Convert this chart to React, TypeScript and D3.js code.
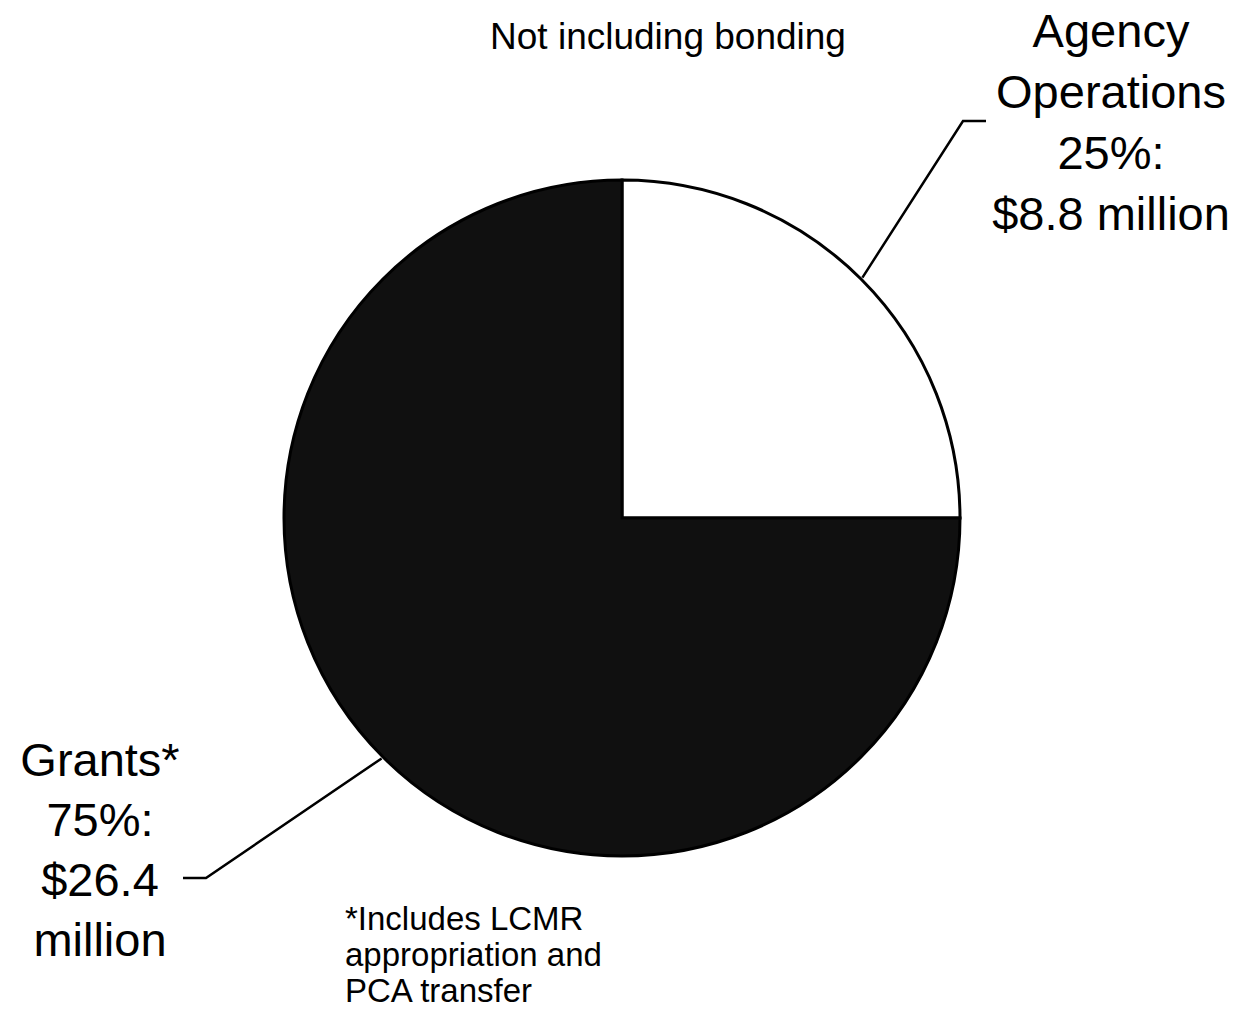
import React from 'react';
import * as d3 from 'd3';

const categories = ['Agency Operations', 'Grants*'];
const values = [8.8, 26.4];
const percents = [25, 75];
const labelLines = [
  ['Agency', 'Operations', `${percents[0]}%:`, '$8.8 million'],
  ['Grants*', `${percents[1]}%:`, '$26.4', 'million'],
];
const title = 'Not including bonding';
const footnote = ['*Includes LCMR', 'appropriation and', 'PCA transfer'];

const W = 1239;
const H = 1010;
const cx = 622;
const cy = 518;
const R = 338;
const fills = ['#ffffff', '#101010'];

// layout of the callouts (label anchor, line elbow, line end)
const callouts = [
  { tx: 1111, ty: 47, lh: 61, elbow: [963, 121], end: [986, 121] },
  { tx: 100, ty: 776, lh: 60, elbow: [206, 878], end: [183, 878] },
];

export default function App() {
  const pie = d3.pie<number>().sort(null).startAngle(0).endAngle(2 * Math.PI);
  const arcs = pie(values);
  const arc = d3.arc<d3.PieArcDatum<number>>().innerRadius(0).outerRadius(R);
  const font = '"Liberation Sans", Arial, Helvetica, sans-serif';

  return (
    <div style={{ position: 'absolute', left: 0, top: 0, background: '#fff' }}>
      <svg width={W} height={H} style={{ display: 'block', fontFamily: font }}>
        <rect width={W} height={H} fill="#fff" />
        <g transform={`translate(${cx},${cy})`}>
          {arcs.map((a, i) => (
            <path
              key={categories[i]}
              d={arc(a) || ''}
              fill={fills[i]}
              stroke="#000"
              strokeWidth={3}
              strokeLinejoin="miter"
            />
          ))}
        </g>
        {arcs.map((a, i) => {
          const mid = (a.startAngle + a.endAngle) / 2;
          const sx = cx + Math.sin(mid) * (R + 2);
          const sy = cy - Math.cos(mid) * (R + 2);
          const c = callouts[i];
          return (
            <polyline
              key={'l' + i}
              points={`${sx},${sy} ${c.elbow[0]},${c.elbow[1]} ${c.end[0]},${c.end[1]}`}
              fill="none"
              stroke="#000"
              strokeWidth={2.5}
            />
          );
        })}
        {labelLines.map((lines, i) => (
          <text
            key={'t' + i}
            x={callouts[i].tx}
            y={callouts[i].ty}
            textAnchor="middle"
            fontSize={47}
            fill="#000"
          >
            {lines.map((ln, j) => (
              <tspan key={j} x={callouts[i].tx} y={callouts[i].ty + j * callouts[i].lh}>
                {ln}
              </tspan>
            ))}
          </text>
        ))}
        <text x={668} y={49} textAnchor="middle" fontSize={37} fill="#000">
          {title}
        </text>
        <text x={345} y={930} fontSize={33} fill="#000">
          {footnote.map((ln, j) => (
            <tspan key={j} x={345} y={930 + j * 36}>
              {ln}
            </tspan>
          ))}
        </text>
      </svg>
    </div>
  );
}
